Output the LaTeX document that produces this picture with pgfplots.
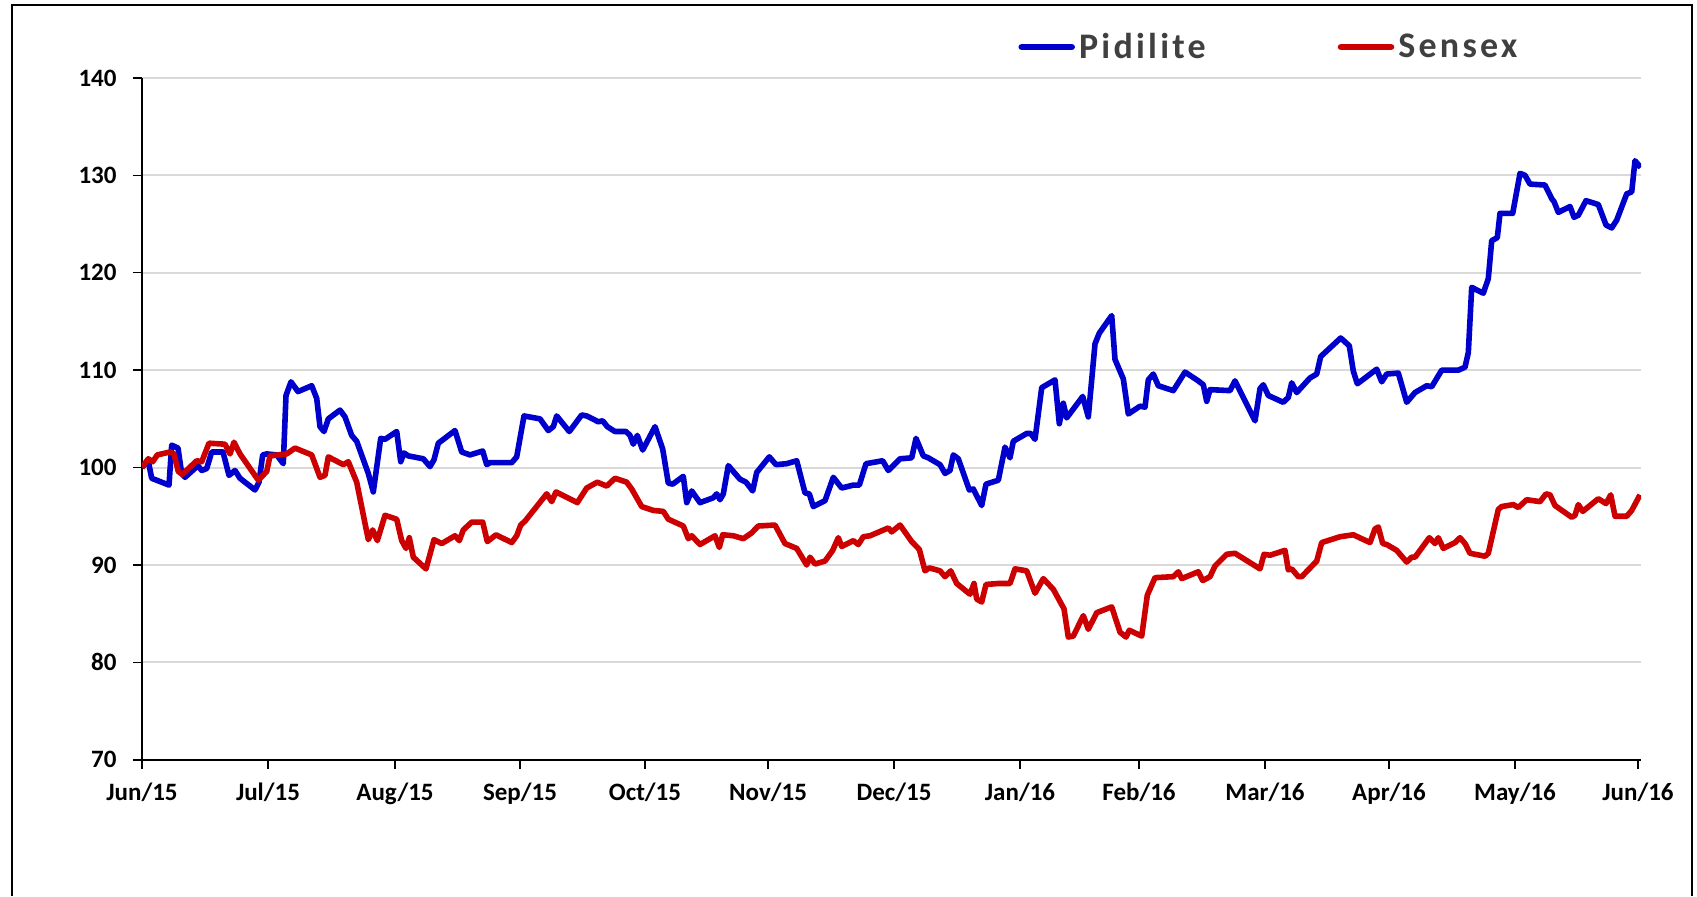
\documentclass[border=0pt]{standalone}
\usepackage{fontspec}
\setmainfont{Carlito}
\newfontfamily\legfont[LetterSpace=9]{Carlito}
\usepackage{pgfplots}
\pgfplotsset{compat=1.18}
\definecolor{pidblue}{RGB}{0,0,204}
\definecolor{sxred}{RGB}{204,0,0}
\definecolor{gridgray}{RGB}{217,217,217}
\definecolor{leggray}{RGB}{64,64,64}
\begin{document}
\begin{tikzpicture}
\useasboundingbox (0pt,0pt) rectangle (848.5pt,448pt);
\draw[line width=1pt] (6.15pt,0pt) -- (6.15pt,445.65pt) -- (846pt,445.65pt) -- (846pt,0pt);
\begin{axis}[
  at={(71pt,68.1pt)}, anchor=south west,
  scale only axis, width=749.5pt, height=340.95pt,
  xmin=0, xmax=1499, ymin=70, ymax=140,
  axis lines*=left,
  axis line style={black, line width=0.8pt},
  ymajorgrids, grid style={gridgray, line width=1pt},
  ytick={70,80,90,100,110,120,130,140},
  xtick={0,126,253,378,503,626,752,878,997,1123,1247,1373,1496},
  xticklabels={Jun/15,Jul/15,Aug/15,Sep/15,Oct/15,Nov/15,Dec/15,Jan/16,Feb/16,Mar/16,Apr/16,May/16,Jun/16},
  tick align=outside, major tick length=4.5pt,
  tick style={black, line width=0.7pt},
  /pgf/number format/assume math mode=true,
  ticklabel style={font=\fontsize{12.5}{15}\selectfont\bfseries, text=black},
  yticklabel style={xshift=-4.7pt},
  xticklabel style={yshift=-3.6pt},
  legend columns=2,
  legend style={draw=none, fill=none, at={(0.5844,1.0453)}, anchor=west,
    font=\legfont\bfseries\fontsize{18}{20}\selectfont, text=leggray,
    inner sep=0pt, nodes={inner xsep=2pt, inner ysep=0pt},
    /tikz/every even column/.append style={column sep=64pt}},
  legend image code/.code={\draw[#1, line width=3.3pt, line cap=round] (0pt,0pt) -- (25pt,0pt);},
  every axis plot/.append style={line width=2.8pt, line join=round},
]
\addplot[pidblue, mark=none] coordinates {
(0,100.0) (6,100.8) (9.7,98.9) (14.7,98.7) (27,98.2) (29.7,102.3) (36,102.0) (39.7,99.4) (43,99.0)
(56,100.2) (59.7,99.7) (64.7,99.9) (69.7,101.6) (81,101.6) (87,99.2) (93,99.7) (98,98.9) (113,97.7)
(117,98.5) (120.7,101.3) (124.7,101.4) (134.7,101.3) (141.3,100.4) (144,107.4) (149,108.8) (156,107.8)
(169.7,108.4) (174.7,107.1) (178,104.2) (182,103.7) (186.3,105.0) (198,105.9) (203,105.2) (209.7,103.3)
(214.7,102.7) (226.3,99.4) (231.3,97.5) (238.7,103.0) (243,102.9) (254.7,103.7) (258.7,100.6) (262,101.5)
(266.3,101.2) (281.3,100.9) (288,100.1) (292,100.8) (296.3,102.5) (313,103.8) (319.7,101.6) (328,101.3)
(340.7,101.7) (344.7,100.3) (348,100.5) (369.7,100.5) (374.7,101.1) (382,105.3) (398,105.0) (406.3,103.8)
(411.3,104.2) (414.7,105.3) (427.3,103.7) (439.7,105.4) (444.7,105.3) (456.3,104.7) (460.7,104.8)
(465.3,104.2) (473,103.7) (484,103.7) (488,103.3) (491.3,102.4) (495.3,103.3) (500.7,101.8) (513,104.2)
(520.7,101.9) (526.3,98.4) (530.7,98.3) (541.3,99.1) (544.7,96.4) (549.7,97.6) (558,96.4) (571.3,96.9)
(574.7,97.3) (578,96.7) (581.3,97.3) (586.3,100.2) (598,98.8) (604,98.5) (610.7,97.6) (614.7,99.5)
(627.3,101.1) (634,100.3) (644.7,100.4) (654.7,100.7) (663,97.4) (667.3,97.3) (671.3,96.0) (683,96.6)
(691.3,99.0) (699.7,97.9) (711.3,98.2) (717.3,98.2) (724,100.4) (740.7,100.7) (746.3,99.7) (758,100.9)
(769.7,101.0) (774,103.0) (781.3,101.2) (786.3,101.0) (798,100.3) (803,99.4) (808,99.7) (811.3,101.3)
(816.3,100.9) (827.3,97.7) (831.3,97.8) (839.7,96.1) (844,98.3) (856.3,98.7) (863,102.1) (868,101.0)
(871.3,102.7) (884.7,103.5) (888.7,103.5) (893,102.9) (899.7,108.2) (913,109.0) (917.3,104.5)
(921.3,106.6) (924.7,105.1) (940.7,107.3) (946.3,105.2) (953,112.7) (957.3,113.8) (969.7,115.6)
(973,111.1) (981.3,109.1) (986.3,105.5) (998,106.3) (1003,106.2) (1006.3,109.0) (1011.3,109.6)
(1016.3,108.4) (1031.3,107.9) (1043,109.8) (1056.3,108.9) (1061.3,108.5) (1064.7,106.8) (1068,108.0)
(1088,107.9) (1093,108.9) (1113,104.8) (1118,108.1) (1121.3,108.5) (1126.3,107.4) (1141.3,106.7)
(1146.3,107.2) (1149.7,108.7) (1154.7,107.7) (1168,109.2) (1174.7,109.6) (1178.7,111.4) (1198.7,113.3)
(1207.3,112.5) (1211.3,109.9) (1215.3,108.6) (1234.7,110.1) (1239.7,108.8) (1244.7,109.6) (1256.3,109.7)
(1264.7,106.7) (1273,107.7) (1284.7,108.4) (1289.7,108.3) (1299.7,110.0) (1316.3,110.0) (1323,110.3)
(1326.3,111.8) (1329.7,118.5) (1341.3,117.9) (1346.3,119.4) (1349.7,123.3) (1355.3,123.6) (1358,126.1)
(1370.7,126.1) (1378,130.2) (1383,130.0) (1388,129.1) (1403,129.0) (1409.7,127.6) (1412,127.3)
(1416.3,126.2) (1428,126.8) (1432,125.7) (1436.3,125.9) (1444,127.4) (1456.3,127.0) (1464,124.9)
(1469.7,124.6) (1474.7,125.4) (1484.7,128.1) (1489.7,128.3) (1493,131.5) (1498.7,130.8)
};
\addlegendentry{Pidilite}
\addplot[sxred, mark=none] coordinates {
(0,100.0) (6.3,100.9) (10.7,100.6) (15.3,101.3) (28,101.6) (32,101.4) (36.3,99.6) (40.3,99.3)
(54.7,100.7) (59.7,100.6) (67,102.5) (83,102.4) (88,101.4) (92,102.6) (98,101.4) (116.3,98.7)
(124.7,99.6) (128,101.2) (144.7,101.4) (153,102.0) (169.7,101.3) (178,99.0) (183,99.2) (186.3,101.1)
(201.3,100.3) (206.3,100.6) (214.7,98.5) (226.3,92.6) (230.7,93.6) (235.3,92.5) (243,95.1) (254.7,94.7)
(259.7,92.5) (264,91.7) (267.3,92.8) (271.3,90.8) (284,89.6) (292,92.6) (299.7,92.2) (313,93.0)
(317.3,92.5) (321.3,93.6) (329.7,94.4) (340.7,94.4) (345.3,92.4) (354,93.1) (369.7,92.3) (374.7,93.0)
(378.7,94.1) (383,94.5) (404.7,97.3) (409.7,96.5) (414,97.5) (435.3,96.4) (444.7,97.9) (455.3,98.5)
(464.7,98.1) (473,98.9) (484.7,98.5) (489.7,97.8) (499.7,96.0) (511.3,95.6) (521.3,95.5) (526.3,94.7)
(541.3,94.0) (546.3,92.7) (549.7,93.0) (558,92.1) (573,93.0) (577.3,91.8) (580.7,93.1) (591.3,93.0)
(601.3,92.7) (609.7,93.3) (616.3,94.0) (633,94.1) (643,92.2) (654.7,91.7) (664.7,90.0) (668,90.8)
(673,90.1) (683,90.4) (690.7,91.5) (696.3,92.8) (699.7,91.9) (711.3,92.5) (716.3,92.1) (721.3,92.9)
(728,93.0) (746.3,93.8) (749.7,93.4) (758,94.1) (769.7,92.4) (777.3,91.6) (783,89.4) (787.3,89.7)
(798,89.4) (803,88.8) (808.7,89.4) (814.7,88.1) (828,87.0) (832,88.1) (834.7,86.5) (839.7,86.2)
(844,88.0) (856.3,88.1) (868,88.1) (873,89.6) (884.7,89.4) (893,87.1) (901.3,88.6) (911.3,87.5)
(922,85.5) (926.3,82.6) (931.3,82.7) (941.3,84.8) (946.3,83.4) (954.7,85.1) (969.7,85.7) (978,83.1)
(984,82.6) (987.3,83.3) (999.7,82.7) (1005.3,86.9) (1013,88.7) (1031.3,88.8) (1036.3,89.3) (1039.7,88.6)
(1056.3,89.3) (1060.7,88.4) (1068,88.8) (1073,89.9) (1084.7,91.1) (1093,91.2) (1118,89.6) (1122,91.1)
(1128,91.0) (1143,91.5) (1146.3,89.5) (1149.7,89.6) (1156.3,88.8) (1159.7,88.8) (1174.7,90.4)
(1179.7,92.3) (1198,92.9) (1211.3,93.1) (1228,92.3) (1233,93.7) (1236.3,93.9) (1240.7,92.2)
(1244.7,92.1) (1254.7,91.5) (1264.7,90.3) (1269.7,90.8) (1273,90.8) (1287.3,92.8) (1293,92.2)
(1296.3,92.8) (1301.3,91.7) (1313,92.3) (1318,92.8) (1323,92.2) (1328,91.2) (1343,90.9) (1346.3,91.2)
(1356.3,95.7) (1359.7,96.0) (1371.3,96.2) (1376.3,95.9) (1384.7,96.7) (1398,96.5) (1404,97.3)
(1408,97.2) (1413,96.1) (1429.7,94.9) (1433,95.1) (1436.3,96.2) (1440.7,95.5) (1456.3,96.8) (1464,96.3)
(1468.7,97.2) (1473,95.0) (1484.7,95.0) (1489.7,95.6) (1498,97.2)
};
\addlegendentry{Sensex}
\end{axis}
\end{tikzpicture}
\end{document}
